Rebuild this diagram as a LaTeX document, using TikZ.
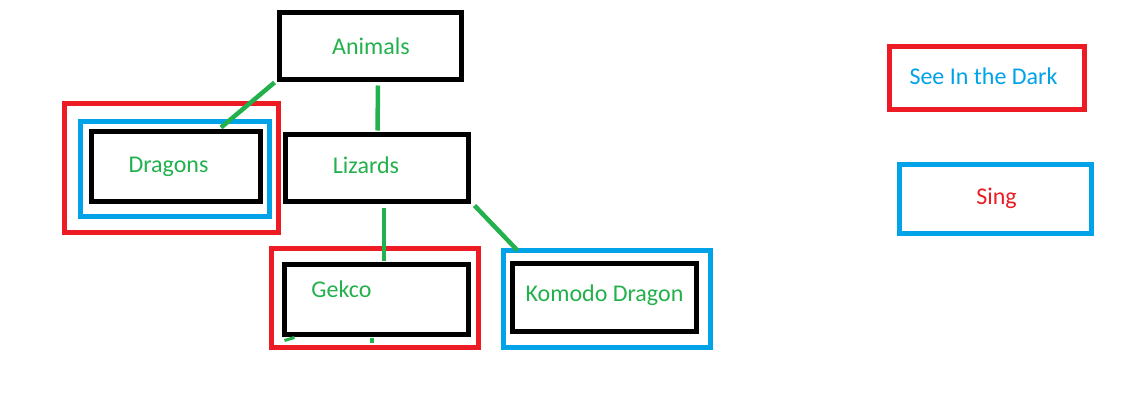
\documentclass[tikz,border=0pt]{standalone}
\usepackage{fontspec}
\setmainfont{Carlito}
\definecolor{pgreen}{RGB}{34,177,76}
\definecolor{pred}{RGB}{237,28,36}
\definecolor{pblue}{RGB}{0,162,232}
\tikzset{
  box/.style={draw=black, line width=5pt, inner sep=0pt, rectangle},
  redbox/.style={draw=pred, line width=5pt, inner sep=0pt, rectangle},
  bluebox/.style={draw=pblue, line width=5pt, inner sep=0pt, rectangle},
  txt/.style={anchor=base, inner sep=0pt, font=\fontsize{24}{28}\selectfont},
  link/.style={draw=pgreen, line width=4.5pt}
}
\begin{document}
\begin{tikzpicture}[x=1pt,y=-1pt]
\useasboundingbox[fill=white] (0,0) rectangle (1130,408);
% boxes
\node[box, minimum width=182pt, minimum height=67pt] (animals) at (370,45.5) {};
\node[box, minimum width=183pt, minimum height=67pt] (lizards) at (376.5,167.5) {};
\node[redbox, minimum width=214pt, minimum height=129pt] (dragonsred) at (171,167.5) {};
\node[bluebox, minimum width=189pt, minimum height=95pt] (dragonsblue) at (174.5,168.5) {};
\node[box, minimum width=169pt, minimum height=70pt] (dragons) at (175.5,166) {};
\node[redbox, minimum width=207pt, minimum height=99pt] (gekcored) at (374.5,297.5) {};
\node[box, minimum width=184pt, minimum height=70pt] (gekco) at (376,299) {};
\node[bluebox, minimum width=207pt, minimum height=97pt] (komodoblue) at (606.5,298.5) {};
\node[box, minimum width=184pt, minimum height=68pt] (komodo) at (604,297) {};
\node[redbox, minimum width=195pt, minimum height=63pt] (dark) at (986.5,77.5) {};
\node[bluebox, minimum width=192pt, minimum height=69pt] (sing) at (995,198.5) {};
% texts
\node[txt, text=pgreen] (tanimals) at (371,54) {Animals};
\node[txt, text=pgreen] (tlizards) at (366,173) {Lizards};
\node[txt, text=pgreen] (tdragons) at (168.5,172) {Dragons};
\node[txt, text=pgreen] (tgekco) at (341.5,297) {Gekco};
\node[txt, text=pgreen] (tkomodo) at (604.5,301) {Komodo Dragon};
\node[txt, text=pblue] (tdark) at (983.5,84) {See In the Dark};
\node[txt, text=pred] (tsing) at (996.5,204) {Sing};
% connectors
\draw[link] ([xshift=-2pt,yshift=-1pt]animals.south west) -- ([xshift=45.5pt,yshift=1pt]dragons.north);
\draw[link] ([xshift=8pt,yshift=-4pt]animals.south) -- ([xshift=1pt,yshift=1pt]lizards.north);
\draw[link] ([xshift=7.5pt,yshift=-4pt]lizards.south) -- ([xshift=8pt,yshift=1pt]gekco.north);
\draw[link] ([xshift=4pt,yshift=-2pt]lizards.south east) -- ([xshift=17pt,yshift=-3pt]komodoblue.north west);
% small marks under Gekco
\coordinate (m1a) at ([xshift=3pt,yshift=-4pt]gekco.south west);
\coordinate (m1b) at ([xshift=13pt,yshift=-1pt]gekco.south west);
\draw[link, line width=3pt] (m1a) -- (m1b);
\coordinate (m2a) at ([xshift=-4pt,yshift=-1pt]gekco.south);
\coordinate (m2b) at ([xshift=-4pt,yshift=-6pt]gekco.south);
\draw[link, line width=4pt] (m2a) -- (m2b);
\end{tikzpicture}
\end{document}
